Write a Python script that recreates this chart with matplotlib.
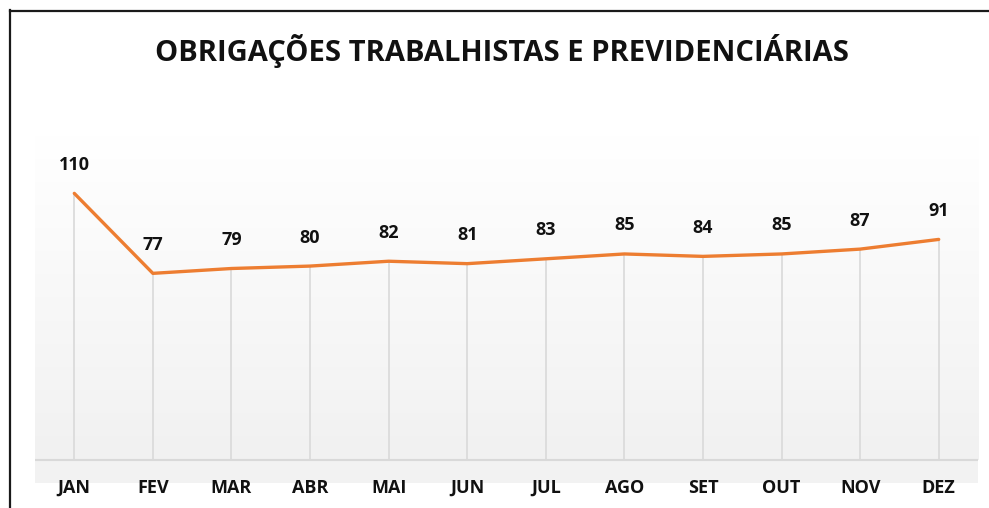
import numpy as np
import matplotlib
matplotlib.use("Agg")
import matplotlib.pyplot as plt
from matplotlib.lines import Line2D

months = ["JAN", "FEV", "MAR", "ABR", "MAI", "JUN", "JUL", "AGO", "SET", "OUT", "NOV", "DEZ"]
values = [110, 77, 79, 80, 82, 81, 83, 85, 84, 85, 87, 91]
title = "OBRIGAÇÕES TRABALHISTAS E PREVIDENCIÁRIAS"

W, H = 989, 508
fig = plt.figure(figsize=(W / 100, H / 100), dpi=100)
fig.patch.set_facecolor("white")

FONT = "Open Sans"

# frame
fig.add_artist(Line2D([9.5 / W, 9.5 / W], [0, 1 - 10 / H], color="#1a1a1a", lw=1.6, transform=fig.transFigure))
fig.add_artist(Line2D([9.5 / W, 1.0], [1 - 10.5 / H, 1 - 10.5 / H], color="#1a1a1a", lw=1.6, transform=fig.transFigure))

# plot area in pixels
x0, x1 = 35, 978
ytop, ybot = 135, 483
yzero = 460
ppu = 2.424  # pixels per unit
ymax = (yzero - ytop) / ppu
ymin = -(ybot - yzero) / ppu

ax = fig.add_axes([x0 / W, 1 - ybot / H, (x1 - x0) / W, (ybot - ytop) / H])
ax.set_xlim(-0.5, len(months) - 0.5)
ax.set_ylim(ymin, ymax)
for s in ax.spines.values():
    s.set_visible(False)
ax.set_xticks([])
ax.set_yticks([])

# gradient background (white at top -> light gray at bottom)
grad = np.linspace(0, 1, 256).reshape(-1, 1)
cmap = matplotlib.colors.LinearSegmentedColormap.from_list("g", ["#ffffff", "#f1f1f1"])
ax.imshow(grad, extent=[-0.5, len(months) - 0.5, 0, ymax], aspect="auto", cmap=cmap,
          zorder=0, origin="upper")
ax.axhspan(ymin, 0, color="#f2f2f2", zorder=0.5, lw=0)
ax.axhline(0, color="#d9d9d9", lw=1.5, zorder=1)

x = np.arange(len(months))
ax.vlines(x, 0, values, color="#d9d9d9", lw=1.2, zorder=1)
ax.plot(x, values, color="#ED7D31", lw=2.4, solid_capstyle="round", zorder=3)

for xi, v in zip(x, values):
    ax.annotate(str(v), (xi, v), xytext=(0, 20.5), textcoords="offset points",
                ha="center", va="center", fontsize=13, fontweight="bold", family=FONT, color="#111111")

for xi, m in zip(x, months):
    ax.text(xi, -(488 - yzero) / ppu, m, ha="center", va="center",
            fontsize=13, fontweight="bold", family=FONT, color="#111111", clip_on=False)

fig.text(501.5 / W, 1 - 50.5 / H, title, ha="center", va="center", fontsize=21,
         fontweight="bold", family=FONT, color="#111111")

fig.savefig("out.png", dpi=100)
